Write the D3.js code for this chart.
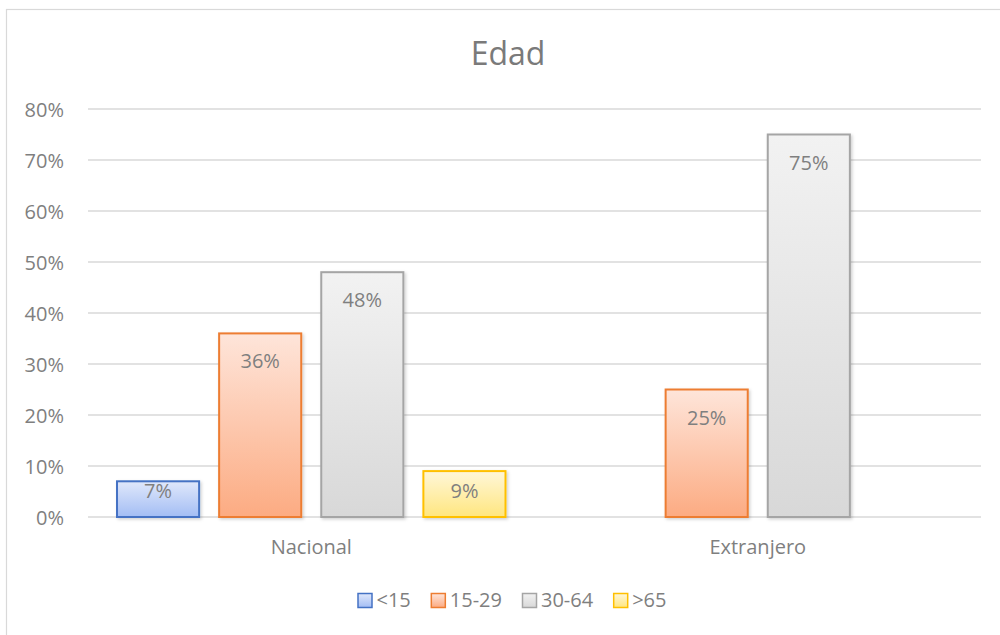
<!DOCTYPE html>
<html>
<head>
<meta charset="utf-8">
<script src="https://cdn.jsdelivr.net/npm/d3@7"></script>
<style>
  html, body { margin: 0; padding: 0; background: #fff; }
  svg { display: block; font-family: "Open Sans", "Liberation Sans", sans-serif; }
</style>
</head>
<body>
<svg id="chart" width="1000" height="635"></svg>
<script>
// Age distribution by origin
const categories = ["Nacional", "Extranjero"];
const series = ["<15", "15-29", "30-64", ">65"];
const values = [
  [0.07, 0.36, 0.48, 0.09],   // Nacional
  [null, 0.25, 0.75, null]    // Extranjero
];
const yTicks = [0, 0.1, 0.2, 0.3, 0.4, 0.5, 0.6, 0.7, 0.8];

const strokeColors = ["#4472c4", "#ed7d31", "#a5a5a5", "#ffc000"];
const gradTop = ["#e0e8fb", "#fee5da", "#f2f2f2", "#fff7d9"];
const gradBottom = ["#a3bdf4", "#fcab82", "#d8d8d8", "#ffe67f"];

const svg = d3.select("#chart");
const defs = svg.append("defs");

series.forEach((s, i) => {
  const g = defs.append("linearGradient")
    .attr("id", "grad" + i).attr("x1", 0).attr("y1", 0).attr("x2", 0).attr("y2", 1);
  g.append("stop").attr("offset", "0%").attr("stop-color", gradTop[i]);
  g.append("stop").attr("offset", "100%").attr("stop-color", gradBottom[i]);
});

const shadow = defs.append("filter").attr("id", "shadow")
  .attr("x", "-10%").attr("y", "-10%").attr("width", "130%").attr("height", "130%");
shadow.append("feDropShadow").attr("dx", 1.5).attr("dy", 1.5).attr("stdDeviation", 1.5)
  .attr("flood-color", "#000").attr("flood-opacity", 0.18);

// chart frame
svg.append("rect")
  .attr("x", 6.5).attr("y", 9.5).attr("width", 1010).attr("height", 640)
  .attr("fill", "#fff").attr("stroke", "#d9d9d9").attr("stroke-width", 1.2);

const plot = { left: 88, right: 981, top: 109, bottom: 517 };

const y = d3.scaleLinear().domain([0, 0.8]).range([plot.bottom, plot.top]);
const x0 = d3.scaleBand().domain(categories).range([plot.left, plot.right]).padding(0);
const x1 = d3.scaleBand().domain(series).range([0, x0.bandwidth()])
  .paddingInner(0.196).paddingOuter(0.284);

const textColor = "#7f7f7f";

// title
svg.append("text")
  .attr("x", 508).attr("y", 65)
  .attr("text-anchor", "middle")
  .attr("font-size", 32).attr("fill", "#7a7a7a")
  .text("Edad");

// gridlines
svg.append("g").selectAll("line").data(yTicks).join("line")
  .attr("x1", plot.left).attr("x2", plot.right)
  .attr("y1", d => y(d)).attr("y2", d => y(d))
  .attr("stroke", "#d9d9d9").attr("stroke-width", 1.5);

// y axis labels
const yAxis = d3.axisLeft(y).tickValues(yTicks).tickFormat(d3.format(".0%")).tickSize(0).tickPadding(0);
const yg = svg.append("g").attr("transform", `translate(${plot.left - 24},0)`).call(yAxis);
yg.select(".domain").remove();
yg.selectAll("text").attr("font-size", 20).attr("fill", textColor)
  .attr("font-family", '"Open Sans", sans-serif').attr("dy", "0.35em");

// x axis labels
const xAxis = d3.axisBottom(x0).tickSize(0).tickPadding(0);
const xg = svg.append("g").attr("transform", `translate(0,${plot.bottom})`).call(xAxis);
xg.select(".domain").remove();
xg.selectAll("text").attr("font-size", 20).attr("fill", textColor)
  .attr("font-family", '"Open Sans", sans-serif').attr("y", 37).attr("dy", 0);

// bars
const groups = svg.append("g").selectAll("g").data(categories).join("g")
  .attr("transform", d => `translate(${x0(d)},0)`);

const cells = groups.selectAll("g.cell")
  .data((c, ci) => series.map((s, si) => ({ s, si, v: values[ci][si] })).filter(d => d.v !== null))
  .join("g").attr("class", "cell");

cells.append("rect")
  .attr("x", d => x1(d.s))
  .attr("y", d => y(d.v))
  .attr("width", x1.bandwidth())
  .attr("height", d => y(0) - y(d.v))
  .attr("fill", d => `url(#grad${d.si})`)
  .attr("stroke", d => strokeColors[d.si])
  .attr("stroke-width", 2)
  .attr("filter", "url(#shadow)");

// data labels, inside end, kept above the baseline
cells.append("text")
  .attr("x", d => x1(d.s) + x1.bandwidth() / 2)
  .attr("y", d => Math.min(y(d.v) + 35, y(0) - 19))
  .attr("text-anchor", "middle")
  .attr("font-size", 20).attr("fill", textColor)
  .text(d => d3.format(".0%")(d.v));

// legend
const legend = svg.append("g");
let cursor = 0;
const items = series.map((s, i) => {
  const g = legend.append("g");
  g.append("rect").attr("x", 0.5).attr("y", -13.5).attr("width", 14).attr("height", 14)
    .attr("fill", `url(#grad${i})`).attr("stroke", strokeColors[i]).attr("stroke-width", 1.5);
  const t = g.append("text").attr("x", 19).attr("y", 0)
    .attr("font-size", 20).attr("fill", textColor).text(s);
  const w = 19 + t.node().getComputedTextLength();
  g.attr("transform", `translate(${cursor},0)`);
  cursor += w + 20;
  return g;
});
const legendWidth = cursor - 20;
legend.attr("transform", `translate(${512 - legendWidth / 2},607)`);
</script>
</body>
</html>
